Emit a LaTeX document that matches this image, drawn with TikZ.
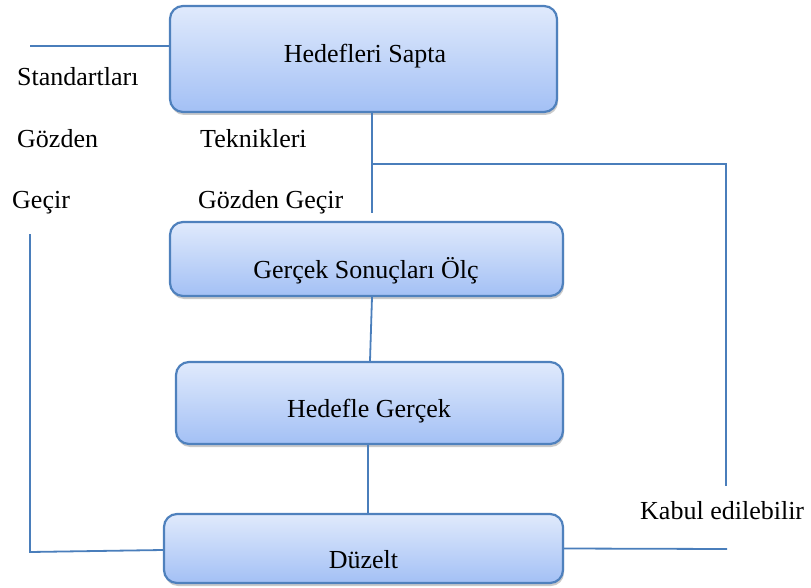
\documentclass[tikz,border=0pt]{standalone}
\usepackage{fontspec}
\setmainfont{Liberation Serif}
\usetikzlibrary{shadows}
\definecolor{lineblue}{HTML}{4A7EBB}
\definecolor{boxtop}{HTML}{E0EAFC}
\definecolor{boxbot}{HTML}{A3C0F5}
\definecolor{boxedge}{HTML}{4F81BD}
\begin{document}
\begin{tikzpicture}[x=1pt,y=-1pt,
  box/.style={draw=boxedge, line width=2.2pt, rounded corners=13pt,
    top color=boxtop, bottom color=boxbot,
    drop shadow={shadow xshift=1pt,shadow yshift=-3pt,opacity=0.35,fill=black!60},
    inner sep=0pt},
  conn/.style={draw=lineblue, line width=1.8pt},
  txt/.style={font=\fontsize{26}{30}\selectfont, inner sep=0pt, anchor=base},
  side/.style={txt, anchor=base west}]
\useasboundingbox (0,0) rectangle (811,588);

% boxes
\node[box, minimum width=387pt, minimum height=106pt] (b1) at (363.5,59) {};
\node[box, minimum width=393pt, minimum height=74pt] (b2) at (366.5,259) {};
\node[box, minimum width=387pt, minimum height=82pt] (b3) at (369.5,403) {};
\node[box, minimum width=399pt, minimum height=69pt] (b4) at (363.5,548.5) {};

% box texts
\node[txt] (t1) at (365,63) {Hedefleri Sapta};
\node[txt] (t2) at (366,278) {Gerçek Sonuçları Ölç};
\node[txt] (t3) at (369,417) {Hedefle Gerçek};
\node[txt] (t4) at (363.5,568) {Düzelt};

% side texts
\node[side] (s1) at (17,86) {Standartları};
\node[side] (s2) at (17,148) {Gözden};
\node[side] (s3) at (12,209) {Geçir};
\node[side] (s4) at (200,148) {Teknikleri};
\node[side] (s5) at (198,209) {Gözden Geçir};
\node[side] (s6) at (640,519) {Kabul edilebilir};

% free ends
\coordinate (tl) at (30,46);
\coordinate (j1) at (372,164);
\coordinate (j0) at (372,213);
\coordinate (r1) at (726,164);
\coordinate (r2) at (726,486);
\coordinate (lt) at (30,234);
\coordinate (lb) at (30,552);
\coordinate (rb) at (727,549);

% connectors
\draw[conn] (tl) -- (tl -| b1.west);
\draw[conn] (j1 |- b1.south) -- (j0);
\draw[conn] (j1) -- (r1) -- (r2);
\draw[conn] ([xshift=5.5pt]b2.south) -- ([xshift=0.5pt]b3.north);
\draw[conn] ([xshift=-1.5pt]b3.south) -- ([xshift=4.5pt]b4.north);
\draw[conn] (lt) -- (lb) -- ([yshift=-1.5pt]b4.west);
\draw[conn] (b4.east) -- (rb);
\end{tikzpicture}
\end{document}
